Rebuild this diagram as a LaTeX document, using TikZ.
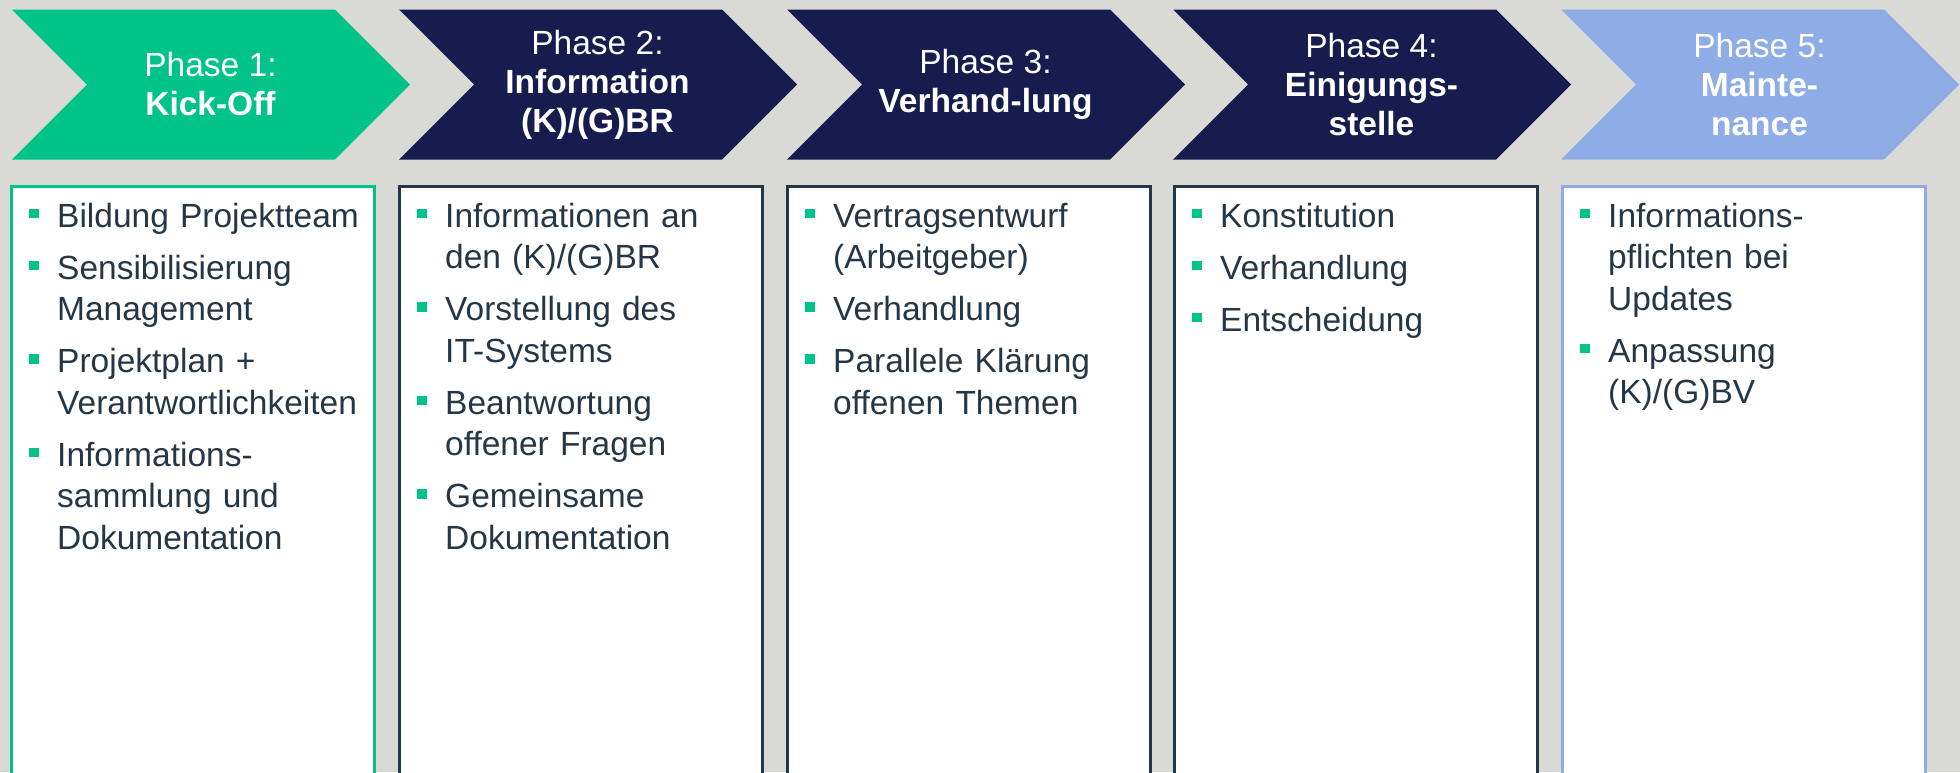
\documentclass[tikz,border=0pt]{standalone}
\usepackage{fontspec}
\setmainfont{Liberation Sans}
\usetikzlibrary{positioning}

\definecolor{phgreen}{RGB}{0,195,137}
\definecolor{phnavy}{RGB}{22,29,78}
\definecolor{phblue}{RGB}{142,172,230}
\definecolor{phslate}{RGB}{37,55,70}
\definecolor{phback}{RGB}{217,217,213}

% bullet item, later lines hang under the text
\newcommand{\bitem}[1]{\noindent\hangindent=28pt\hangafter=1%
  \makebox[28pt][l]{\textcolor{phgreen}{\rule[9pt]{9.5pt}{9.5pt}}}#1\par}

\begin{document}
\begin{tikzpicture}[
    x=1pt, y=1pt,
    phase/.style={text=white, align=center, inner sep=0pt,
      font=\fontsize{33.5}{39}\selectfont},
    items/.style={anchor=north west, inner sep=0pt, text width=345pt,
      align=left, text=phslate, font=\fontsize{33.5}{41.5}\selectfont,
      execute at begin node={\setlength{\parskip}{10.5pt}\rule{0pt}{30pt}}}
]
\fill[phback] (0,0) rectangle (1960,-772);
\useasboundingbox (0,0) rectangle (1960,-772);
\clip (0,0) rectangle (1960,-772);

% phase arrows
\foreach \x/\col [count=\i] in {12/phgreen, 399/phnavy, 787/phnavy, 1173/phnavy, 1561/phblue}{
  \fill[\col] (\x,-9.5) -- ++(323,0) -- ++(75,-75) -- ++(-75,-75)
    -- ++(-323,0) -- ++(75,75) -- cycle;
  \coordinate (c\i) at (\x+198.5,-84.5);
}

\node[phase] (ph1) at (c1) {Phase 1:\\\textbf{Kick-Off}};
\node[phase] (ph2) at (c2) {Phase 2:\\\textbf{Information}\\\textbf{(K)/(G)BR}};
\node[phase] (ph3) at (c3) {Phase 3:\\\textbf{Verhand-lung}};
\node[phase] (ph4) at (c4) {Phase 4:\\\textbf{Einigungs-}\\\textbf{stelle}};
\node[phase] (ph5) at (c5) {Phase 5:\\\textbf{Mainte-}\\\textbf{nance}};

% boxes below the arrows
\foreach \x/\col [count=\i] in {10/phgreen, 398/phslate, 786/phslate, 1173/phslate, 1561/phblue}{
  \draw[\col, line width=3pt, fill=white] (\x+1.5,-186.5) rectangle (\x+364.5,-800);
  \coordinate (t\i) at (\x+19,-197);
}

\node[items] (list1) at (t1) {%
  \bitem{Bildung Projektteam}%
  \bitem{Sensibilisierung\newline Management}%
  \bitem{Projektplan +\newline Verantwortlichkeiten}%
  \bitem{Informations-\newline sammlung und\newline Dokumentation}};
\node[items] (list2) at (t2) {%
  \bitem{Informationen an\newline den (K)/(G)BR}%
  \bitem{Vorstellung des\newline IT-Systems}%
  \bitem{Beantwortung\newline offener Fragen}%
  \bitem{Gemeinsame\newline Dokumentation}};
\node[items] (list3) at (t3) {%
  \bitem{Vertragsentwurf\newline (Arbeitgeber)}%
  \bitem{Verhandlung}%
  \bitem{Parallele Klärung\newline offenen Themen}};
\node[items] (list4) at (t4) {%
  \bitem{Konstitution}%
  \bitem{Verhandlung}%
  \bitem{Entscheidung}};
\node[items] (list5) at (t5) {%
  \bitem{Informations-\newline pflichten bei\newline Updates}%
  \bitem{Anpassung\newline (K)/(G)BV}};

\end{tikzpicture}
\end{document}
